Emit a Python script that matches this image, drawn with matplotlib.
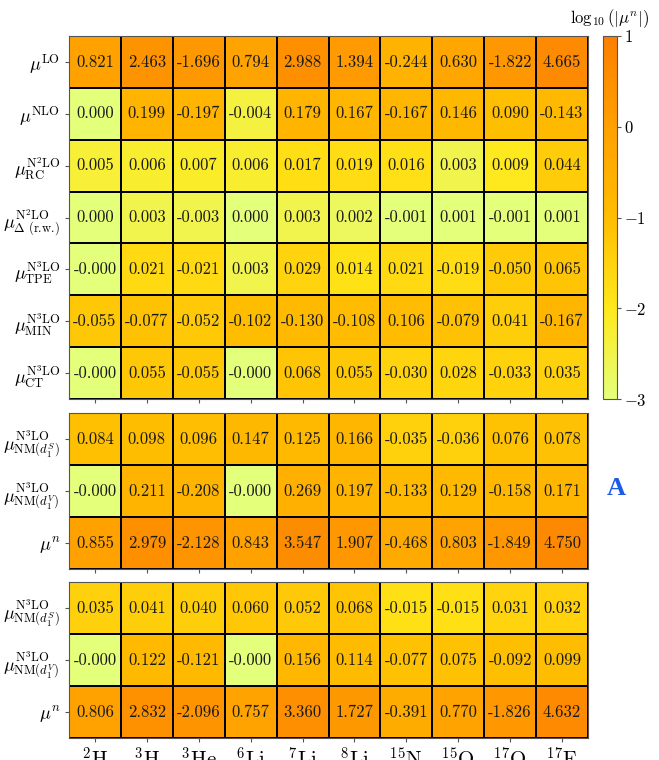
import numpy as np
import matplotlib
matplotlib.use("Agg")
import matplotlib.pyplot as plt
from matplotlib.colors import Normalize
from matplotlib.colorbar import ColorbarBase

plt.rcParams.update({
    "font.family": "serif",
    "font.serif": ["cmr10"],
    "mathtext.fontset": "cm",
    "axes.unicode_minus": False,
    "axes.formatter.use_mathtext": True,
})

nuclei = [r"$^{2}\mathrm{H}$", r"$^{3}\mathrm{H}$", r"$^{3}\mathrm{He}$", r"$^{6}\mathrm{Li}$",
          r"$^{7}\mathrm{Li}$", r"$^{8}\mathrm{Li}$", r"$^{15}\mathrm{N}$", r"$^{15}\mathrm{O}$",
          r"$^{17}\mathrm{O}$", r"$^{17}\mathrm{F}$"]

# Chiral-order contributions to the magnetic moment
top_labels = [r"$\mu^{\mathrm{LO}}$", r"$\mu^{\mathrm{NLO}}$",
              r"$\mu^{\mathrm{N^2LO}}_{\mathrm{RC}}$",
              r"$\mu^{\mathrm{N^2LO}}_{\Delta\ \mathrm{(r.\!w.\!)}}$",
              r"$\mu^{\mathrm{N^3LO}}_{\mathrm{TPE}}$",
              r"$\mu^{\mathrm{N^3LO}}_{\mathrm{MIN}}$",
              r"$\mu^{\mathrm{N^3LO}}_{\mathrm{CT}}$"]
mu_LO = [0.821, 2.463, -1.696, 0.794, 2.988, 1.394, -0.244, 0.630, -1.822, 4.665]
mu_NLO = [0.000, 0.199, -0.197, -0.004, 0.179, 0.167, -0.167, 0.146, 0.090, -0.143]
mu_N2LO_RC = [0.005, 0.006, 0.007, 0.006, 0.017, 0.019, 0.016, 0.003, 0.009, 0.044]
mu_N2LO_D = [0.000, 0.003, -0.003, 0.000, 0.003, 0.002, -0.001, 0.001, -0.001, 0.001]
mu_N3LO_TPE = [-0.0, 0.021, -0.021, 0.003, 0.029, 0.014, 0.021, -0.019, -0.050, 0.065]
mu_N3LO_MIN = [-0.055, -0.077, -0.052, -0.102, -0.130, -0.108, 0.106, -0.079, 0.041, -0.167]
mu_N3LO_CT = [-0.0, 0.055, -0.055, -0.0, 0.068, 0.055, -0.030, 0.028, -0.033, 0.035]

nm_labels = [r"$\mu^{\mathrm{N^3LO}}_{\mathrm{NM}(d_1^S)}$",
             r"$\mu^{\mathrm{N^3LO}}_{\mathrm{NM}(d_1^V)}$",
             r"$\mu^{n}$"]
# Non-minimal couplings, first fit
nmA_S = [0.084, 0.098, 0.096, 0.147, 0.125, 0.166, -0.035, -0.036, 0.076, 0.078]
nmA_V = [-0.0, 0.211, -0.208, -0.0, 0.269, 0.197, -0.133, 0.129, -0.158, 0.171]
totA = [0.855, 2.979, -2.128, 0.843, 3.547, 1.907, -0.468, 0.803, -1.849, 4.750]
# Non-minimal couplings, second fit
nmB_S = [0.035, 0.041, 0.040, 0.060, 0.052, 0.068, -0.015, -0.015, 0.031, 0.032]
nmB_V = [-0.0, 0.122, -0.121, -0.0, 0.156, 0.114, -0.077, 0.075, -0.092, 0.099]
totB = [0.806, 2.832, -2.096, 0.757, 3.360, 1.727, -0.391, 0.770, -1.826, 4.632]

cmap = plt.get_cmap("Wistia")
norm = Normalize(vmin=-3, vmax=1)

W, H = 659, 760
fig = plt.figure(figsize=(W / 100, H / 100), dpi=100)


def px_axes(x0, y0, x1, y1):
    return fig.add_axes([x0 / W, (H - y1) / H, (x1 - x0) / W, (y1 - y0) / H])


def panel(ax, rows, labels, show_x):
    data = np.array(rows, dtype=float)
    with np.errstate(divide="ignore"):
        logv = np.clip(np.log10(np.abs(data)), -3, 1)
    nr, nc = data.shape
    ax.pcolormesh(np.arange(nc + 1), np.arange(nr + 1), logv, cmap=cmap, norm=norm,
                  edgecolors="black", linewidth=1.2)
    for i in range(nr):
        for j in range(nc):
            ax.text(j + 0.5, i + 0.5, f"{data[i, j]:.3f}", ha="center", va="center",
                    fontsize=12, color="#1a1a1a")
    ax.set_xlim(0, nc)
    ax.set_ylim(nr, 0)
    ax.set_yticks(np.arange(nr) + 0.5)
    ax.set_yticklabels(labels, fontsize=13)
    ax.set_xticks(np.arange(nc) + 0.5)
    if show_x:
        ax.set_xticklabels(nuclei, fontsize=15)
    else:
        ax.set_xticklabels([])
    ax.tick_params(length=3, width=0.8, color="#555555")
    for s in ax.spines.values():
        s.set_color("#555555")
        s.set_linewidth(0.8)


x0, x1 = 69, 588
ax_top = px_axes(x0, 36, x1, 399)
panel(ax_top, [mu_LO, mu_NLO, mu_N2LO_RC, mu_N2LO_D, mu_N3LO_TPE, mu_N3LO_MIN, mu_N3LO_CT],
      top_labels, False)
ax_mid = px_axes(x0, 413, x1, 569)
panel(ax_mid, [nmA_S, nmA_V, totA], nm_labels, False)
ax_bot = px_axes(x0, 582, x1, 738)
panel(ax_bot, [nmB_S, nmB_V, totB], nm_labels, True)

cax = px_axes(603, 36, 617, 399)
cb = ColorbarBase(cax, cmap=cmap, norm=norm, ticks=[-3, -2, -1, 0, 1])
cb.outline.set_edgecolor("#555555")
cb.outline.set_linewidth(0.8)
cax.tick_params(labelsize=12, length=3, width=0.8, color="#555555", pad=2)
cax.set_title(r"$\log_{10}(|\mu^n|)$", fontsize=12, pad=9)

fig.text(616 / W, 1 - 489 / H, "A", color="#1a5ce8", fontsize=19, fontweight="bold",
         family="Liberation Serif", ha="center", va="center")

fig.savefig("out.png", dpi=100)
